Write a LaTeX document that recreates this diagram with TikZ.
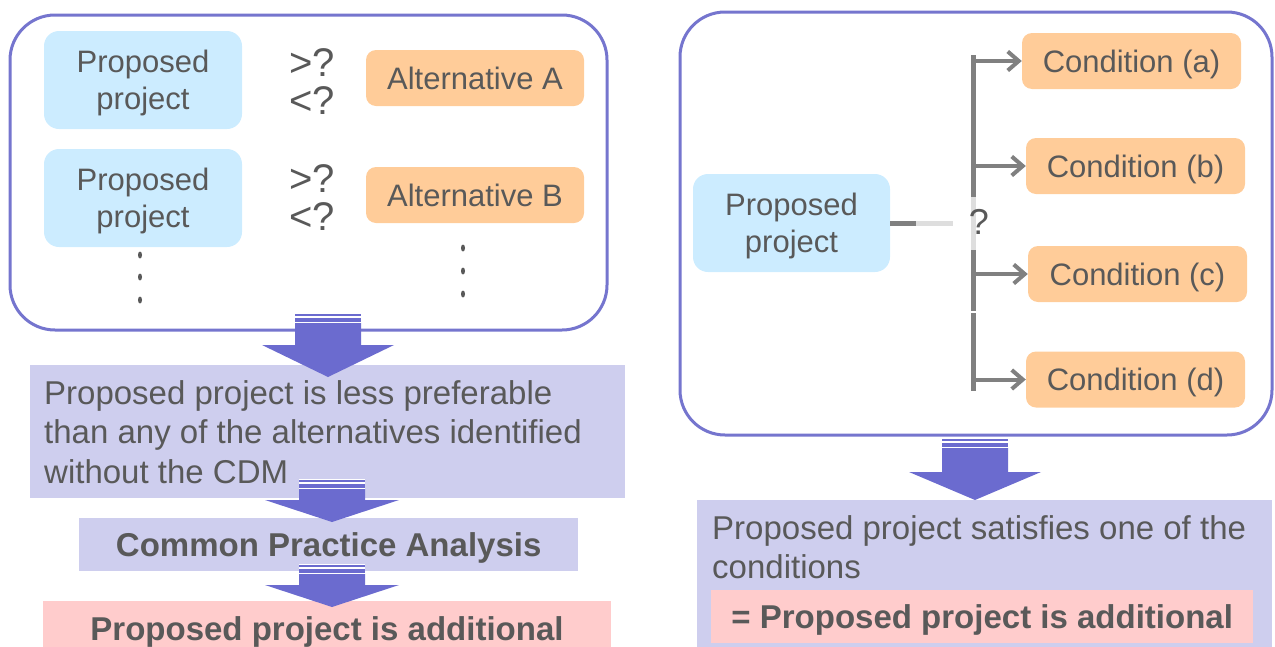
\documentclass[tikz,border=0pt]{standalone}
\usepackage{fontspec}
\setmainfont{Liberation Sans}
\usetikzlibrary{arrows.meta}
\definecolor{txt}{RGB}{89,89,89}
\definecolor{frm}{RGB}{117,117,206}
\definecolor{barrow}{RGB}{107,107,207}
\definecolor{pblue}{RGB}{204,236,255}
\definecolor{porange}{RGB}{255,204,153}
\definecolor{plav}{RGB}{206,206,238}
\definecolor{ppink}{RGB}{255,204,204}
\definecolor{cgray}{RGB}{128,128,128}
\definecolor{clight}{RGB}{222,222,222}
\newcommand\blockarr[5]{%
 \fill[white] (#1-33,#2-1) rectangle (#1+33,#2+9);
 \fill[barrow] (#1-33,#2) rectangle (#1+33,#2+2);
 \fill[barrow] (#1-33,#2+4) rectangle (#1+33,#2+8);
 \fill[barrow] (#1-33,#2+9) -- (#1+33,#2+9) -- (#1+33,#3) -- (#1+#5,#3) -- (#1,#4) -- (#1-#5,#3) -- (#1-33,#3) -- cycle;}
\begin{document}
\begin{tikzpicture}[x=1pt,y=-1pt,
  box/.style={inner sep=0pt, text=txt, font=\fontsize{31}{37.5}\selectfont, align=center, text depth=0pt},
  pbox/.style={box, fill=pblue, rounded corners=15pt, minimum width=198pt, minimum height=98pt},
  abox/.style={box, fill=porange, rounded corners=10pt, minimum width=218pt, minimum height=56pt},
  frame/.style={draw=frm, line width=3pt, rounded corners=45pt},
  cmp/.style={box, font=\fontsize{40}{38}\selectfont},
  big/.style={text=txt, font=\fontsize{33}{39.5}\selectfont, inner sep=0pt},
  bigb/.style={big, font=\fontsize{33}{39.5}\selectfont\bfseries, text depth=0pt},
  lav/.style={fill=plav, inner sep=0pt},
  pink/.style={fill=ppink, inner sep=0pt},
  conn/.style={draw=cgray, line width=5pt},
  connl/.style={draw=clight, line width=5pt},
  carr/.style={draw=cgray, line width=4pt, -{Straight Barb[length=11pt,width=19pt]}},
  dot/.style={fill=txt}]
\useasboundingbox (0,0) rectangle (1275,646);
\clip (0,0) rectangle (1275,646);
% ---------- left part ----------
\node[frame, minimum width=597pt, minimum height=315pt] (lf) at (308.5,172.5) {};
\node[pbox] (p1) at (143,80) {Proposed\\project};
\node[pbox] (p2) at (143,198) {Proposed\\project};
\node[cmp] (c1) at (312,82) {>?\\<?};
\node[cmp] (c2) at (312,198) {>?\\<?};
\node[abox] (aa) at (475,78) {Alternative A};
\node[abox] (ab) at (475,195) {Alternative B};
\foreach \y in {255,277,300} \fill[dot] (140,\y) ellipse (2pt and 3.5pt);
\foreach \y in {248,271,294} \fill[dot] (463,\y) ellipse (2pt and 3.5pt);
\node[lav, minimum width=595pt, minimum height=133pt, anchor=north west] (l1) at (30,365) {};
\node[big, anchor=west, align=left] (t1) at (44,432) {Proposed project is less preferable\\than any of the alternatives identified\\without the CDM};
\node[lav, minimum width=499pt, minimum height=53pt, anchor=north west] (l2) at (79,518) {};
\node[bigb] (t2) at (l2.center) {Common Practice Analysis};
\node[pink, minimum width=568pt, minimum height=60pt, anchor=north west] (pk1) at (43,601) {};
\node[bigb] (t3) at (327,629) {Proposed project is additional};
% ---------- right part ----------
\node[frame, minimum width=592pt, minimum height=423pt] (rf) at (976,223.5) {};
\node[pbox, minimum width=197pt] (pp) at (791.5,223) {Proposed\\project};
\node[abox, minimum width=219pt] (ca) at (1131.5,61) {Condition (a)};
\node[abox, minimum width=219pt] (cb) at (1135.5,166) {Condition (b)};
\node[abox, minimum width=219pt] (cc) at (1137.5,274) {Condition (c)};
\node[abox, minimum width=219pt] (cd) at (1135.5,379.5) {Condition (d)};
\coordinate (vx) at (973,0);
\coordinate (h1) at (916,223);
\coordinate (h2) at (953,223);
\draw[conn] (pp.east |- h1) -- (h1);
\draw[connl] (h1) -- (h2);
\draw[conn] (973,55) -- (973,197);
\draw[connl] (973,197) -- (973,250);
\draw[conn] (973,250) -- (973,311);
\draw[conn] (973,313) -- (973,391);
\node[box, font=\fontsize{36}{40}\selectfont] (q) at (979,222) {?};
\draw[carr] (vx |- ca.west) -- (ca.west);
\draw[carr] (vx |- cb.west) -- (cb.west);
\draw[carr] (vx |- cc.west) -- (cc.west);
\draw[carr] (vx |- cd.west) -- (cd.west);
\node[lav, minimum width=575pt, minimum height=150pt, anchor=north west] (l3) at (697,500) {};
\node[big, anchor=north west, align=left] (t4) at (712,515) {Proposed project satisfies one of the\\conditions};
\node[pink, minimum width=542pt, minimum height=53pt, anchor=north west] (pk2) at (711,590) {};
\node[bigb] (t5) at (pk2.center) {= Proposed project is additional};
% ---------- block arrows ----------
\blockarr{328}{314}{345}{377}{66}
\blockarr{332}{480}{500}{522}{67}
\blockarr{332}{565}{585}{607}{67}
\blockarr{975}{439}{472}{500}{66}
\end{tikzpicture}
\end{document}
